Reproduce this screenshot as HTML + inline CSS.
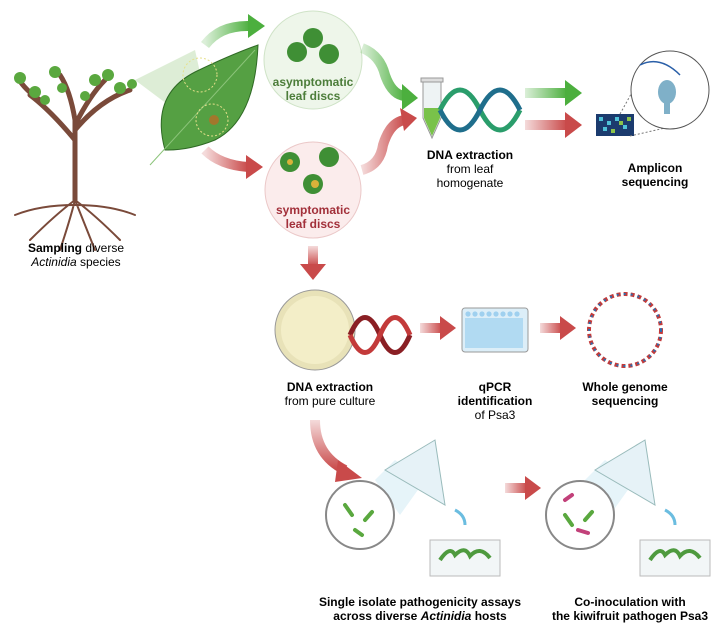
<!DOCTYPE html>
<html><head><meta charset="utf-8"><style>
body{margin:0;background:#fff;}
svg text{font-family:"Liberation Sans",sans-serif;font-size:12px;}
.b{font-weight:bold}
</style></head><body>
<svg width="720" height="634" viewBox="0 0 720 634" xmlns="http://www.w3.org/2000/svg">
<defs>
<linearGradient id="gg" x1="0" x2="1"><stop offset="0" stop-color="#4caf3e" stop-opacity="0.2"/><stop offset="1" stop-color="#4caf3e"/></linearGradient>
<linearGradient id="rg" x1="0" x2="1"><stop offset="0" stop-color="#c94a4a" stop-opacity="0.2"/><stop offset="1" stop-color="#c94a4a"/></linearGradient>
<linearGradient id="rgv" x1="0" y1="0" x2="0" y2="1"><stop offset="0" stop-color="#c94a4a" stop-opacity="0.2"/><stop offset="1" stop-color="#c94a4a"/></linearGradient>
</defs>
<!-- tree -->
<g stroke="#7a4a3a" fill="none" stroke-linecap="round">
<path d="M75 200 L75 120 M75 140 Q50 110 30 95 M75 130 Q100 100 130 90 M75 120 Q70 90 60 75 M75 125 Q90 95 105 80 M40 100 Q25 90 18 78" stroke-width="5"/>
<path d="M75 200 Q55 215 30 240 M75 200 Q95 215 120 240 M75 200 Q70 220 60 250 M75 200 Q85 225 95 250 M75 205 Q40 205 15 215 M75 205 Q110 205 135 215" stroke-width="2"/>
</g>
<g fill="#5aa83f">
<circle cx="20" cy="78" r="6"/><circle cx="35" cy="92" r="6"/><circle cx="55" cy="72" r="6"/><circle cx="62" cy="88" r="5"/><circle cx="95" cy="80" r="6"/><circle cx="108" cy="75" r="6"/><circle cx="120" cy="88" r="6"/><circle cx="132" cy="84" r="5"/><circle cx="85" cy="96" r="5"/><circle cx="45" cy="100" r="5"/>
</g>
<polygon points="135,80 195,50 215,140" fill="#cfe6c4" opacity="0.7"/>
<!-- leaf -->
<path d="M165 150 Q150 95 195 72 Q230 55 258 45 Q255 120 215 140 Q190 150 168 150Z" fill="#55a043" stroke="#2f6a25"/>
<path d="M150 165 Q200 110 255 50" stroke="#8cc47a" fill="none"/>
<circle cx="200" cy="75" r="17" fill="none" stroke="#e6e08a" stroke-dasharray="2 2"/>
<circle cx="212" cy="120" r="16" fill="none" stroke="#e6e08a" stroke-dasharray="2 2"/>
<circle cx="214" cy="120" r="5" fill="#a2772c"/>
<!-- arrows from leaf -->
<path d="M205 45 Q220 25 250 26" stroke="url(#gg)" stroke-width="10" fill="none"/>
<polygon points="248,14 265,26 248,38" fill="#4caf3e"/>
<path d="M205 150 Q220 165 248 167" stroke="url(#rg)" stroke-width="10" fill="none"/>
<polygon points="246,155 263,167 246,179" fill="#c94a4a"/>
<!-- circles -->
<circle cx="313" cy="60" r="49" fill="#eef6ea" stroke="#cfe3c7"/>
<circle cx="313" cy="38" r="10" fill="#3f8f35"/><circle cx="297" cy="52" r="10" fill="#3f8f35"/><circle cx="329" cy="54" r="10" fill="#3f8f35"/>
<text x="313" y="86" text-anchor="middle" class="b" fill="#4c7d3a">asymptomatic</text>
<text x="313" y="100" text-anchor="middle" class="b" fill="#4c7d3a">leaf discs</text>
<circle cx="313" cy="190" r="48" fill="#fbecec" stroke="#ebc8c8"/>
<circle cx="290" cy="162" r="10" fill="#3f8f35"/><circle cx="329" cy="157" r="10" fill="#3f8f35"/><circle cx="313" cy="184" r="10" fill="#3f8f35"/>
<circle cx="290" cy="162" r="3" fill="#d8b23a"/><circle cx="315" cy="184" r="4" fill="#d8b23a"/>
<text x="313" y="214" text-anchor="middle" class="b" fill="#a2303a">symptomatic</text>
<text x="313" y="228" text-anchor="middle" class="b" fill="#a2303a">leaf discs</text>
<!-- to tube -->
<path d="M362 48 Q380 55 385 75 Q392 95 405 96" stroke="url(#gg)" stroke-width="10" fill="none"/>
<polygon points="402,84 418,98 402,110" fill="#4caf3e"/>
<path d="M362 170 Q380 165 383 145 Q390 122 405 120" stroke="url(#rg)" stroke-width="10" fill="none"/>
<polygon points="400,108 417,118 404,131" fill="#c94a4a"/>
<!-- tube -->
<rect x="421" y="78" width="22" height="4" fill="#ddd" stroke="#999"/>
<path d="M423 82 L441 82 L441 118 L432 138 L423 118Z" fill="#eef3f4" stroke="#999"/>
<path d="M424 108 L440 108 L440 118 L432 136 L424 118Z" fill="#79c24a"/>
<!-- DNA helix -->
<path d="M440 110 Q460 70 480 110 Q500 150 520 110" stroke="#2a9d6b" stroke-width="5" fill="none"/>
<path d="M440 110 Q460 150 480 110 Q500 70 520 110" stroke="#1f6e8c" stroke-width="5" fill="none"/>
<text x="470" y="159" text-anchor="middle" class="b">DNA extraction</text>
<text x="470" y="173" text-anchor="middle">from leaf</text>
<text x="470" y="187" text-anchor="middle">homogenate</text>
<!-- arrows right -->
<rect x="525" y="88" width="42" height="10" fill="url(#gg)"/><polygon points="565,80 582,93 565,106" fill="#4caf3e"/>
<rect x="525" y="120" width="42" height="10" fill="url(#rg)"/><polygon points="565,112 582,125 565,138" fill="#c94a4a"/>
<!-- sequencer -->
<rect x="596" y="114" width="38" height="22" fill="#1b3b6e"/>
<g fill="#4fc3d9"><rect x="599" y="117" width="4" height="4"/><rect x="607" y="121" width="4" height="4"/><rect x="615" y="117" width="4" height="4"/><rect x="623" y="125" width="4" height="4"/><rect x="603" y="127" width="4" height="4"/></g>
<g fill="#8bc34a"><rect x="611" y="129" width="4" height="4"/><rect x="627" y="117" width="4" height="4"/><rect x="619" y="121" width="4" height="4"/></g>
<line x1="620" y1="114" x2="650" y2="60" stroke="#777" stroke-dasharray="2 2"/><line x1="630" y1="136" x2="665" y2="128" stroke="#777" stroke-dasharray="2 2"/>
<circle cx="670" cy="90" r="39" fill="#fff" stroke="#555"/>
<path d="M640 65 Q660 55 680 75" stroke="#2a5fa8" fill="none" stroke-width="1.5"/>
<ellipse cx="667" cy="92" rx="9" ry="12" fill="#7fb0c8"/><rect x="664" y="100" width="6" height="14" fill="#7fb0c8"/>
<text x="655" y="172" text-anchor="middle" class="b">Amplicon</text>
<text x="655" y="186" text-anchor="middle" class="b">sequencing</text>
<!-- sampling label -->
<text x="76" y="252" text-anchor="middle"><tspan class="b">Sampling</tspan> diverse</text>
<text x="76" y="266" text-anchor="middle"><tspan font-style="italic">Actinidia</tspan> species</text>
<!-- down arrow -->
<rect x="308" y="246" width="10" height="20" fill="url(#rgv)"/><polygon points="300,264 326,264 313,280" fill="#c94a4a"/>
<!-- petri -->
<circle cx="315" cy="330" r="40" fill="#e8e2b8" stroke="#999"/>
<circle cx="315" cy="330" r="34" fill="#f3eec8"/>
<path d="M350 335 Q365 300 380 335 Q395 370 410 335" stroke="#8a1f24" stroke-width="5" fill="none"/>
<path d="M350 335 Q365 370 380 335 Q395 300 410 335" stroke="#c33a3a" stroke-width="5" fill="none"/>
<text x="330" y="391" text-anchor="middle" class="b">DNA extraction</text>
<text x="330" y="405" text-anchor="middle">from pure culture</text>
<rect x="420" y="323" width="22" height="10" fill="url(#rg)"/><polygon points="440,316 456,328 440,340" fill="#c94a4a"/>
<!-- qPCR plate -->
<rect x="462" y="308" width="66" height="44" rx="3" fill="#dceef8" stroke="#999"/>
<g fill="#9fd0ef">
<circle cx="468" cy="314" r="2.6"/><circle cx="475" cy="314" r="2.6"/><circle cx="482" cy="314" r="2.6"/><circle cx="489" cy="314" r="2.6"/><circle cx="496" cy="314" r="2.6"/><circle cx="503" cy="314" r="2.6"/><circle cx="510" cy="314" r="2.6"/><circle cx="517" cy="314" r="2.6"/>
</g>
<rect x="465" y="318" width="58" height="30" fill="#a6d4f0" opacity="0.8"/>
<text x="495" y="391" text-anchor="middle" class="b">qPCR</text>
<text x="495" y="405" text-anchor="middle" class="b">identification</text>
<text x="495" y="419" text-anchor="middle">of Psa3</text>
<rect x="540" y="323" width="22" height="10" fill="url(#rg)"/><polygon points="560,316 576,328 560,340" fill="#c94a4a"/>
<circle cx="625" cy="330" r="36" fill="none" stroke="#c33a3a" stroke-width="4" stroke-dasharray="4 3"/>
<circle cx="625" cy="330" r="36" fill="none" stroke="#2a6fb0" stroke-width="2" stroke-dasharray="2 5"/>
<text x="625" y="391" text-anchor="middle" class="b">Whole genome</text>
<text x="625" y="405" text-anchor="middle" class="b">sequencing</text>
<!-- curved arrow -->
<path d="M315 420 Q315 455 345 470" stroke="url(#rgv)" stroke-width="10" fill="none"/>
<polygon points="338,460 362,478 335,482" fill="#c94a4a"/>
<!-- assay 1 -->
<path d="M395 460 L425 480 L400 515 L375 480Z" fill="#d6ecf5" opacity="0.6"/>
<path d="M385 470 L435 440 L445 505 Z" fill="#e6f2f7" stroke="#9bb"/>
<circle cx="360" cy="515" r="34" fill="#fff" stroke="#888" stroke-width="2"/>
<g stroke="#5aa83f" stroke-width="4" stroke-linecap="round"><line x1="345" y1="505" x2="352" y2="515"/><line x1="365" y1="520" x2="372" y2="512"/><line x1="355" y1="530" x2="362" y2="535"/></g>
<path d="M455 510 Q465 515 465 525" stroke="#6bbde0" stroke-width="3" fill="none"/>
<rect x="430" y="540" width="70" height="36" fill="#f2f6f7" stroke="#bbb"/>
<path d="M440 560 Q450 545 455 555 Q465 545 470 556 Q480 545 490 558" stroke="#4e9a3e" stroke-width="4" fill="none"/>
<text x="420" y="606" text-anchor="middle" class="b">Single isolate pathogenicity assays</text>
<text x="420" y="620" text-anchor="middle" class="b">across diverse <tspan font-style="italic">Actinidia</tspan> hosts</text>
<rect x="505" y="483" width="22" height="10" fill="url(#rg)"/><polygon points="525,476 541,488 525,500" fill="#c94a4a"/>
<!-- assay 2 -->
<path d="M605 460 L635 480 L610 515 L585 480Z" fill="#d6ecf5" opacity="0.6"/>
<path d="M595 470 L645 440 L655 505 Z" fill="#e6f2f7" stroke="#9bb"/>
<circle cx="580" cy="515" r="34" fill="#fff" stroke="#888" stroke-width="2"/>
<g stroke="#5aa83f" stroke-width="4" stroke-linecap="round"><line x1="565" y1="515" x2="572" y2="525"/><line x1="585" y1="520" x2="592" y2="512"/></g>
<g stroke="#c2417a" stroke-width="4" stroke-linecap="round"><line x1="565" y1="500" x2="572" y2="495"/><line x1="578" y1="530" x2="588" y2="533"/></g>
<path d="M665 510 Q675 515 675 525" stroke="#6bbde0" stroke-width="3" fill="none"/>
<rect x="640" y="540" width="70" height="36" fill="#f2f6f7" stroke="#bbb"/>
<path d="M650 560 Q660 545 665 555 Q675 545 680 556 Q690 545 700 558" stroke="#4e9a3e" stroke-width="4" fill="none"/>
<text x="630" y="606" text-anchor="middle" class="b">Co-inoculation with</text>
<text x="630" y="620" text-anchor="middle" class="b">the kiwifruit pathogen Psa3</text>
</svg>
</body></html>
